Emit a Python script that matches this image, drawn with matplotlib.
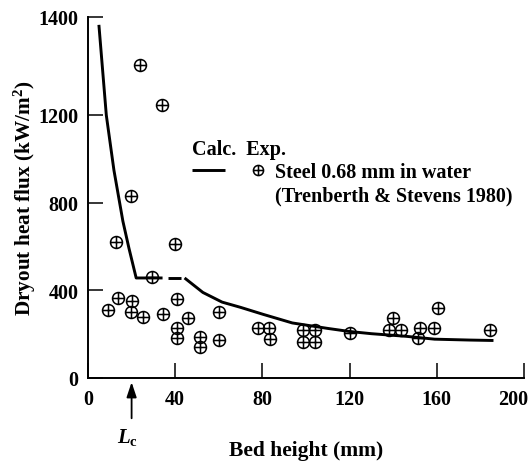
import numpy as np
import matplotlib
matplotlib.use('Agg')
import matplotlib.pyplot as plt
import matplotlib.transforms as mtransforms
from matplotlib.path import Path
from matplotlib.lines import Line2D
from matplotlib.legend_handler import HandlerTuple

plt.rcParams['font.family'] = ['Liberation Serif', 'DejaVu Serif']
plt.rcParams['font.weight'] = 'bold'
plt.rcParams['axes.labelweight'] = 'bold'
plt.rcParams['mathtext.fontset'] = 'custom'
plt.rcParams['mathtext.rm'] = 'Liberation Serif:bold'
plt.rcParams['mathtext.bf'] = 'Liberation Serif:bold'
plt.rcParams['mathtext.it'] = 'Liberation Serif:italic'

# Datos experimentales (Trenberth & Stevens 1980)
exp_x = [23.7, 34.1, 19.9, 12.7, 40.1, 29.5, 9.2, 13.7, 20.1, 19.9, 25.2, 34.5,
         40.9, 45.9, 40.9, 40.9, 51.2, 51.2, 60.0, 60.0, 77.8, 82.9, 83.4,
         98.8, 103.9, 98.8, 103.9, 120.0, 140.1, 138.2, 143.5, 152.5, 158.5,
         151.5, 160.7, 184.3]
exp_y = [1301, 1220, 828, 622, 612, 459, 311, 364, 352, 302, 277, 294,
         359, 273, 226, 181, 188, 142, 299, 171, 229, 229, 180,
         219, 219, 166, 166, 203, 273, 219, 219, 229, 229,
         183, 320, 219]

# Curva calculada: tramo superior, tramo discontinuo y tramo inferior
calc_x_sup = [5.0, 8.4, 11.9, 16.0, 18.8, 22.1, 34.2]
calc_y_sup = [1383, 1198, 947, 715, 591, 456, 456]
calc_x_disc = [36.6, 42.7]
calc_y_disc = [456, 456]
calc_x_inf = [44.3, 52.7, 61.5, 70.0, 80.4, 93.7, 110, 120, 130, 146, 159, 175, 186]
calc_y_inf = [456, 390, 346, 322, 290, 251, 226, 212, 202, 190, 177, 173, 171]

L_C = 20.0

x_ticks = [0, 40, 80, 120, 160, 200]
y_ticks = [0, 400, 800, 1200, 1400]

# Escala del eje y: tramo 1200-1400 estirado
Y_CORTE = 1200.0
K_ESTIRADO = 2.24


def adelante(y):
    y = np.asarray(y, dtype=float)
    return np.where(y <= Y_CORTE, y, Y_CORTE + (y - Y_CORTE) * K_ESTIRADO)


def inversa(y):
    y = np.asarray(y, dtype=float)
    return np.where(y <= Y_CORTE, y, Y_CORTE + (y - Y_CORTE) / K_ESTIRADO)


# Marcador circulo con cruz
circulo = Path.unit_circle()
cruz = Path([[-1, 0], [1, 0], [0, -1], [0, 1]],
            [Path.MOVETO, Path.LINETO, Path.MOVETO, Path.LINETO])
marcador = Path.make_compound_path(circulo, cruz)

fig = plt.figure(figsize=(5.31, 4.64), dpi=100)
ax = fig.add_axes([88 / 531, 1 - 379 / 464, 436 / 531, 361.5 / 464])
ax.set_yscale('function', functions=(adelante, inversa))

linea, = ax.plot(calc_x_sup, calc_y_sup, color='black', linewidth=2.1,
                 solid_capstyle='butt')
ax.plot(calc_x_disc, calc_y_disc, color='black', linewidth=2.1, solid_capstyle='butt')
ax.plot(calc_x_inf, calc_y_inf, color='black', linewidth=2.1, solid_capstyle='butt')

puntos, = ax.plot(exp_x, exp_y, linestyle='none', marker=marcador, markersize=8.6,
                  markerfacecolor='none', markeredgecolor='black', markeredgewidth=1.1)

ax.set_xlim(0, 200)
ax.set_ylim(0, 1400)
ax.set_xticks(x_ticks)
ax.set_yticks(y_ticks)
ax.minorticks_off()
ax.tick_params(direction='in', length=10.5, width=1.1, labelsize=14.5, pad=7)
ax.tick_params(axis='x', pad=8)

# Ultima etiqueta del eje x desplazada hacia la izquierda
desplazamiento = mtransforms.ScaledTranslation(-8 / 72, 0, fig.dpi_scale_trans)
etiqueta_200 = ax.get_xticklabels()[-1]
etiqueta_200.set_transform(etiqueta_200.get_transform() + desplazamiento)

for lado in ['top', 'right']:
    ax.spines[lado].set_visible(False)
for lado in ['left', 'bottom']:
    ax.spines[lado].set_linewidth(1.4)

ax.set_xlabel('Bed height (mm)', fontsize=15.5, labelpad=22)
ax.set_ylabel(r'Dryout heat flux (kW/m$^{\mathrm{2}}$)', fontsize=15.3, labelpad=0)

# Flecha de la altura critica L_c
ax.annotate('', xy=(L_C, 0), xycoords='data', xytext=(0, -29),
            textcoords='offset points', annotation_clip=False,
            arrowprops=dict(arrowstyle='-|>,head_length=0.9,head_width=0.3',
                            color='black', linewidth=1.3, shrinkA=0, shrinkB=3))
ax.annotate(r'$L_{\mathrm{c}}$', xy=(L_C, 0), xycoords='data', xytext=(-3, -42),
            textcoords='offset points', ha='center', va='center', fontsize=15,
            annotation_clip=False)

vacio = Line2D([], [], linestyle='none')
leyenda = ax.legend([(linea, puntos), vacio],
                    ['Steel 0.68 mm in water', '(Trenberth & Stevens 1980)'],
                    handler_map={tuple: HandlerTuple(ndivide=None, pad=0.85)},
                    title='Calc.  Exp.', title_fontsize=14.5, fontsize=14.5,
                    alignment='left', frameon=False, loc='upper left',
                    bbox_to_anchor=(0.2385, 0.66), borderaxespad=0, borderpad=0,
                    handlelength=4.1, handletextpad=0.0, labelspacing=0.15,
                    markerscale=0.85)

fig.savefig('out.png', dpi=100)
